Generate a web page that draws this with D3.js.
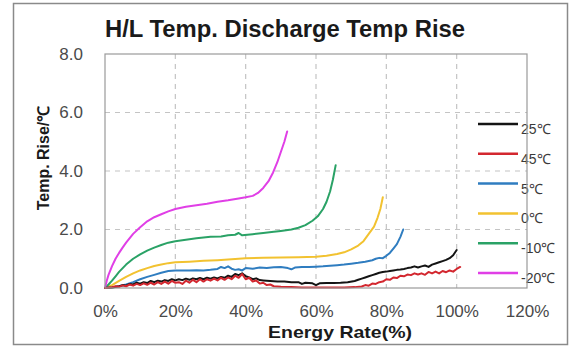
<!DOCTYPE html>
<html>
<head>
<meta charset="utf-8">
<script src="https://cdn.jsdelivr.net/npm/d3@7"></script>
<style>
  html, body { margin: 0; padding: 0; background: #fff; }
  svg { display: block; font-family: "Liberation Sans", Arial, sans-serif; }
</style>
</head>
<body>
<svg id="chart" width="577" height="346"></svg>
<script>
// ---- data (x = energy rate %, y = temp rise ℃) ----
const seriesNames = ["25℃", "45℃", "5℃", "0℃", "-10℃", "-20℃"];
const seriesColors = ["#141414", "#d3272f", "#2f7dc0", "#f2c230", "#2aa266", "#e03fe6"];

const s25 = [[0,0],[2,0.02],[4,0.06],[5,0.1],[6,0.08],[7,0.14],[8,0.12],[9,0.18],[10,0.15],[11,0.2],[12,0.17],[13,0.24],[14,0.2],[15,0.25],[16,0.22],[17,0.27],[18,0.24],[19,0.3],[20,0.26],[21,0.3],[22,0.27],[23,0.32],[24,0.28],[25,0.33],[26,0.3],[27,0.34],[28,0.3],[29,0.35],[30,0.32],[31,0.36],[32,0.33],[33,0.38],[34,0.35],[35,0.42],[36,0.38],[37,0.48],[38,0.44],[39,0.5],[40,0.4],[41,0.36],[42,0.3],[43,0.33],[44,0.27],[45,0.26],[47,0.24],[49,0.22],[51,0.22],[53,0.2],[55,0.2],[56,0.14],[57,0.18],[59,0.16],[60,0.1],[61,0.16],[63,0.17],[65,0.17],[67,0.18],[69,0.2],[71,0.24],[72,0.28],[73,0.32],[74,0.36],[75,0.4],[76,0.44],[77,0.48],[78,0.52],[79,0.55],[80,0.56],[81,0.58],[82,0.6],[83,0.62],[84,0.63],[85,0.65],[86,0.68],[87,0.7],[88,0.74],[89,0.7],[90,0.74],[91,0.77],[92,0.72],[93,0.8],[94,0.84],[95,0.88],[96,0.92],[97,0.96],[98,1.02],[99,1.12],[100,1.3]];

const s45 = [[0,0],[2,0.03],[3,0.06],[4,0.04],[5,0.09],[6,0.06],[7,0.12],[8,0.08],[9,0.14],[10,0.1],[11,0.16],[12,0.11],[13,0.18],[14,0.12],[15,0.2],[16,0.14],[17,0.22],[18,0.15],[19,0.24],[20,0.18],[21,0.2],[22,0.14],[23,0.25],[24,0.18],[25,0.28],[26,0.2],[27,0.3],[28,0.22],[29,0.3],[30,0.25],[31,0.32],[32,0.26],[33,0.35],[34,0.28],[35,0.36],[36,0.3],[37,0.42],[38,0.35],[39,0.48],[40,0.3],[41,0.35],[42,0.22],[43,0.26],[44,0.15],[45,0.18],[46,0.1],[47,0.12],[48,0.06],[50,0.04],[53,0.03],[56,0.02],[60,0.02],[64,0.02],[68,0.02],[71,0.03],[73,0.05],[74,0.1],[75,0.08],[76,0.15],[77,0.14],[78,0.2],[79,0.22],[80,0.3],[81,0.28],[82,0.36],[83,0.34],[84,0.42],[85,0.4],[86,0.46],[87,0.44],[88,0.5],[89,0.46],[90,0.5],[91,0.45],[92,0.55],[93,0.5],[94,0.56],[95,0.5],[96,0.58],[97,0.54],[98,0.6],[99,0.56],[100,0.65],[101,0.72]];

const s5 = [[0,0],[2,0.02],[4,0.06],[6,0.12],[8,0.2],[10,0.3],[12,0.38],[14,0.45],[16,0.52],[18,0.58],[20,0.6],[22,0.6],[24,0.6],[26,0.61],[28,0.6],[30,0.62],[32,0.65],[33,0.72],[34,0.68],[35,0.74],[36,0.66],[37,0.62],[38,0.64],[39,0.6],[40,0.68],[42,0.66],[44,0.7],[46,0.68],[48,0.71],[50,0.72],[52,0.68],[53,0.64],[54,0.7],[56,0.72],[58,0.72],[60,0.73],[62,0.74],[64,0.76],[66,0.78],[68,0.8],[70,0.83],[72,0.86],[74,0.9],[76,0.95],[77,1.0],[78,1.03],[79,1.02],[80,1.1],[81,1.2],[82,1.35],[83,1.5],[84,1.75],[84.8,2.0]];

const s0 = [[0,0],[2,0.1],[4,0.24],[6,0.38],[8,0.5],[10,0.6],[12,0.68],[14,0.75],[16,0.8],[18,0.85],[20,0.88],[24,0.9],[28,0.93],[32,0.95],[36,0.98],[40,1.02],[45,1.03],[50,1.04],[55,1.05],[60,1.07],[63,1.1],[66,1.16],[68,1.22],[70,1.32],[72,1.45],[73.5,1.6],[75,1.85],[76.5,2.1],[77.5,2.4],[78.3,2.7],[79,3.1]];

const sm10 = [[0,0],[1,0.12],[2,0.25],[3,0.4],[4,0.55],[6,0.8],[8,1.0],[10,1.15],[12,1.28],[14,1.38],[16,1.47],[18,1.55],[20,1.6],[23,1.65],[26,1.7],[30,1.75],[33,1.76],[35,1.8],[37,1.82],[38,1.88],[39,1.8],[42,1.84],[45,1.88],[48,1.92],[50,1.95],[53,2.0],[55,2.06],[57,2.15],[59,2.3],[60.5,2.45],[62,2.7],[63,2.95],[64,3.3],[64.8,3.7],[65.6,4.2]];

const sm20 = [[0,0],[0.5,0.25],[1,0.45],[2,0.75],[3,1.0],[4,1.2],[5,1.38],[6,1.55],[8,1.85],[10,2.08],[12,2.28],[14,2.42],[16,2.52],[18,2.62],[20,2.7],[23,2.78],[26,2.83],[29,2.88],[32,2.95],[35,3.0],[38,3.06],[40,3.1],[42,3.15],[43.5,3.25],[45,3.42],[46.5,3.65],[47.8,3.95],[49,4.3],[50,4.65],[51,5.0],[51.8,5.35]];

const xTicks = [0, 20, 40, 60, 80, 100, 120];
const yTicks = [0, 2, 4, 6, 8];
const titleText = "H/L Temp. Discharge Temp Rise";
const xLabel = "Energy Rate(%)";
const yLabel = "Temp. Rise/℃";

// ---- drawing ----
const seriesData = [s25, s45, s5, s0, sm10, sm20];
const svg = d3.select("#chart");
const W = 577, H = 346;
const plot = { left: 105, right: 527, top: 54, bottom: 288 };

svg.append("rect").attr("x", 0).attr("y", 0).attr("width", W).attr("height", H).attr("fill", "#fff");
// outer frame
svg.append("rect").attr("x", 13.5).attr("y", 3.5).attr("width", 554).attr("height", 341)
  .attr("fill", "none").attr("stroke", "#8a8a8a").attr("stroke-width", 1.5);

const x = d3.scaleLinear().domain([0, 120]).range([plot.left, plot.right]);
const y = d3.scaleLinear().domain([0, 8]).range([plot.bottom, plot.top]);

// grid
const grid = svg.append("g");
grid.selectAll(".vg").data(xTicks.filter(t => t > 0 && t < 120)).enter().append("line")
  .attr("x1", d => x(d)).attr("x2", d => x(d)).attr("y1", plot.top).attr("y2", plot.bottom)
  .attr("stroke", "#c4c4c4").attr("stroke-width", 1.2).attr("stroke-dasharray", "5,5");
grid.selectAll(".hg").data(yTicks.filter(t => t > 0 && t < 8)).enter().append("line")
  .attr("x1", plot.left).attr("x2", plot.right).attr("y1", d => y(d)).attr("y2", d => y(d))
  .attr("stroke", "#c4c4c4").attr("stroke-width", 1.2).attr("stroke-dasharray", "5,5");

// axes via d3
const xAxis = d3.axisBottom(x).tickValues(xTicks).tickSize(0).tickPadding(17).tickFormat(d => d + "%");
const yAxis = d3.axisLeft(y).tickValues(yTicks).tickSize(0).tickPadding(22).tickFormat(d3.format(".1f"));
const gx = svg.append("g").attr("transform", `translate(0,${plot.bottom})`).call(xAxis);
const gy = svg.append("g").attr("transform", `translate(${plot.left},0)`).call(yAxis);
[gx, gy].forEach(g => {
  g.select(".domain").remove();
  g.selectAll("text").attr("fill", "#4a4a4a").style("font-size", "17px")
    .style("font-family", "'Liberation Sans', Arial, sans-serif");
});

// lines
const line = d3.line().x(d => x(d[0])).y(d => y(d[1])).curve(d3.curveLinear);
const drawOrder = [3, 4, 5, 2, 0, 1];
drawOrder.forEach(i => {
  svg.append("path").datum(seriesData[i]).attr("d", line)
    .attr("fill", "none").attr("stroke", seriesColors[i]).attr("stroke-width", 2)
    .attr("stroke-linejoin", "round").attr("stroke-linecap", "round");
});

// legend
const legY = d3.scaleLinear().domain([0, 5]).range([124, 273]);
const leg = svg.append("g");
seriesNames.forEach((n, i) => {
  leg.append("line").attr("x1", 478).attr("x2", 518).attr("y1", legY(i)).attr("y2", legY(i))
    .attr("stroke", seriesColors[i]).attr("stroke-width", 2.5);
  leg.append("text").attr("x", 521).attr("y", legY(i) + 10).text(n)
    .attr("fill", "#3a3a3a").style("font-size", "14px");
});

// plot border (drawn over legend text like the original)
svg.append("rect").attr("x", plot.left).attr("y", plot.top)
  .attr("width", plot.right - plot.left).attr("height", plot.bottom - plot.top)
  .attr("fill", "none").attr("stroke", "#9a9a9a").attr("stroke-width", 1.2);

// title & labels
svg.append("text").attr("x", 105).attr("y", 37).text(titleText)
  .attr("textLength", 360).attr("lengthAdjust", "spacingAndGlyphs")
  .attr("fill", "#1a1a1a").style("font-size", "23px").style("font-weight", "bold");
svg.append("text").attr("x", 340).attr("y", 338).attr("text-anchor", "middle").text(xLabel)
  .attr("textLength", 144).attr("lengthAdjust", "spacingAndGlyphs")
  .attr("fill", "#1a1a1a").style("font-size", "17px").style("font-weight", "bold");
svg.append("text").attr("transform", "translate(49,158) rotate(-90)").attr("text-anchor", "middle")
  .text(yLabel).attr("fill", "#1a1a1a").style("font-size", "16px").style("font-weight", "bold");
</script>
</body>
</html>
